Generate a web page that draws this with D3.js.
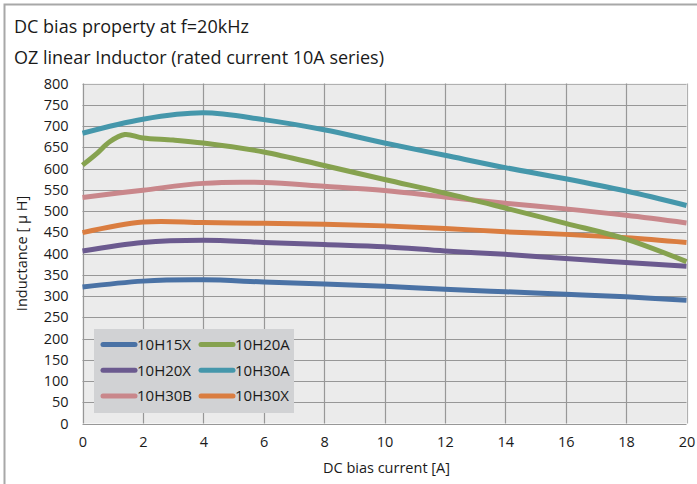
<!DOCTYPE html>
<html>
<head>
<meta charset="utf-8">
<title>DC bias property</title>
<script src="https://cdn.jsdelivr.net/npm/d3@7"></script>
<style>
  body { margin: 0; background: #fff; }
  text { font-family: "Open Sans", sans-serif; fill: #1a1a1a; }
  .title { font-size: 18px; }
  .tick text { font-size: 14.5px; }
  .axis_label { font-size: 14.5px; }
  .legend_text { font-size: 15px; }
</style>
</head>
<body>
<div id="chart"></div>
<script>
// DC bias current [A]
var current = [0, 2, 4, 6, 8, 10, 12, 14, 16, 18, 20];
// green one has its own sampling because of the early hump
var current20A = [0, 0.5, 0.9, 1.4, 2, 3, 4, 6, 8, 10, 12, 14, 16, 18, 20];

var l10H15X = [321, 335, 338, 333, 328, 323, 316, 310, 304, 298, 290];
var l10H20X = [406, 426, 431, 426, 421, 416, 406, 398, 388, 379, 370];
var l10H30B = [532, 549, 565, 567, 558, 548, 533, 518, 505, 490, 472];
var l10H30X = [449, 474, 473, 471, 469, 465, 459, 451, 445, 437, 426];
var l10H30A = [683, 716, 731, 715, 691, 660, 631, 602, 576, 547, 513];
var l10H20A = [608, 637, 663, 680, 672, 667, 660, 639, 607, 574, 542, 507, 471, 434, 381];

var names = ["10H15X", "10H20A", "10H20X", "10H30A", "10H30B", "10H30X"];
var colors = ["#4a72a5", "#86a24f", "#6b5a8f", "#4597ab", "#c9878b", "#da7d40"];
var yTicks = d3.range(0, 801, 50);
var xTicks = d3.range(0, 21, 2);

var series = [
  { name: "10H15X", xs: current, ys: l10H15X },
  { name: "10H20X", xs: current, ys: l10H20X },
  { name: "10H30B", xs: current, ys: l10H30B },
  { name: "10H30X", xs: current, ys: l10H30X },
  { name: "10H20A", xs: current20A, ys: l10H20A },
  { name: "10H30A", xs: current, ys: l10H30A }
];

var w = 697, h = 484;
var pLeft = 82.5, pRight = 686.5, pTop = 83.5, pBottom = 423.5;

var svg = d3.select("#chart").append("svg").attr("width", w).attr("height", h);

// outer frame (top + left edges visible)
svg.append("path").attr("d", "M4.5," + h + "V4.5H" + w)
  .attr("fill", "none").attr("stroke", "#a8a8a8").attr("stroke-width", 2);

svg.append("text").attr("class", "title").attr("x", 14).attr("y", 33).text("DC bias property at f=20kHz");
svg.append("text").attr("class", "title").attr("x", 14).attr("y", 64).text("OZ linear Inductor (rated current 10A series)");

var x = d3.scaleLinear().domain([0, 20]).range([pLeft, pRight]);
var y = d3.scaleLinear().domain([0, 800]).range([pBottom, pTop]);

svg.append("rect").attr("x", pLeft).attr("y", pTop).attr("width", pRight - pLeft).attr("height", pBottom - pTop)
  .attr("fill", "#ebebeb");

// grid
svg.append("g").selectAll("line").data(yTicks).enter().append("line")
  .attr("x1", pLeft).attr("x2", pRight)
  .attr("y1", function(d) { return Math.round(y(d)) + 0.5; })
  .attr("y2", function(d) { return Math.round(y(d)) + 0.5; })
  .attr("stroke", function(d) { return d == 800 ? "#b0b0b0" : "#979797"; }).attr("stroke-width", 1.2);
svg.append("g").selectAll("line").data(xTicks).enter().append("line")
  .attr("y1", pTop).attr("y2", pBottom)
  .attr("x1", function(d) { return Math.round(x(d)) + 0.5; })
  .attr("x2", function(d) { return Math.round(x(d)) + 0.5; })
  .attr("stroke", function(d) { return d == 20 ? "#b0b0b0" : "#979797"; }).attr("stroke-width", 1.2);

// axes (labels only)
var yAxis = svg.append("g").attr("transform", "translate(" + pLeft + ",0)")
  .call(d3.axisLeft(y).tickValues(yTicks).tickSize(0).tickPadding(14));
yAxis.select(".domain").remove();
var xAxis = svg.append("g").attr("transform", "translate(0," + pBottom + ")")
  .call(d3.axisBottom(x).tickValues(xTicks).tickSize(0).tickPadding(13));
xAxis.select(".domain").remove();
svg.selectAll(".tick text").attr("fill", "#1a1a1a").style("font-family", "'Open Sans', sans-serif");

svg.append("text").attr("class", "axis_label").attr("x", (pLeft + pRight) / 2 + 2).attr("y", 473)
  .attr("text-anchor", "middle").text("DC bias current [A]");
svg.append("text").attr("class", "axis_label")
  .attr("transform", "translate(27," + ((pTop + pBottom) / 2) + ") rotate(-90)")
  .attr("text-anchor", "middle").text("Inductance [ μ H]");

// curves
var line = d3.line()
  .x(function(d) { return x(d[0]); })
  .y(function(d) { return y(d[1]); })
  .curve(d3.curveCatmullRom.alpha(0.5));

svg.append("g").selectAll("path").data(series).enter().append("path")
  .attr("d", function(s) { return line(d3.zip(s.xs, s.ys)); })
  .attr("fill", "none")
  .attr("stroke", function(s) { return colors[names.indexOf(s.name)]; })
  .attr("stroke-width", 5)
  .attr("stroke-linecap", "butt");

// legend
var lg = svg.append("g");
lg.append("rect").attr("x", 94).attr("y", 329).attr("width", 200).attr("height", 84).attr("fill", "#d1d2d4");
var items = lg.selectAll("g").data(names).enter().append("g")
  .attr("transform", function(d, i) {
    return "translate(" + (i % 2 == 0 ? 103 : 201) + "," + (344.5 + Math.floor(i / 2) * 25.7) + ")";
  });
items.append("line").attr("x1", 0).attr("x2", 32).attr("y1", 0).attr("y2", 0)
  .attr("stroke", function(d, i) { return colors[i]; }).attr("stroke-width", 5).attr("stroke-linecap", "round");
items.append("text").attr("class", "legend_text").attr("x", 34).attr("y", 5.5).text(function(d) { return d; });
</script>
</body>
</html>
